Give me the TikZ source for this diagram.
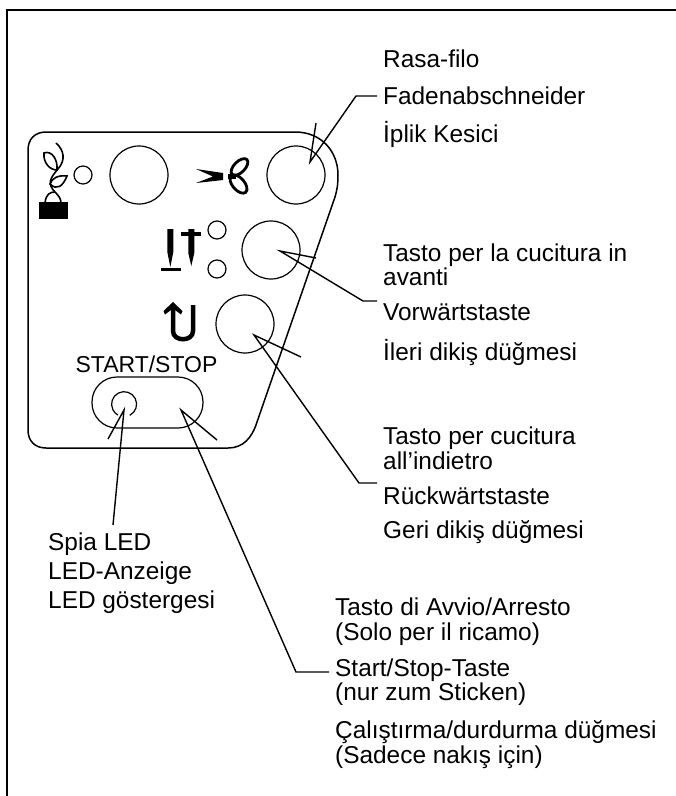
\documentclass[tikz,border=0pt]{standalone}
\usepackage{fontspec}
\setmainfont{Liberation Sans}
\tikzset{
  btn/.style={draw,circle,line width=1.2pt,minimum size=58pt,inner sep=0pt},
  lamp/.style={draw,circle,line width=1.2pt,minimum size=18pt,inner sep=0pt},
  leader/.style={line width=1.4pt,black},
  plantline/.style={line width=1.6pt,black},
  tag/.style={inner ysep=0pt,inner xsep=6pt,anchor=base west,font=\fontsize{24.4}{29}\selectfont}
}
\begin{document}
\begin{tikzpicture}[x=1pt,y=-1pt]
  \useasboundingbox (0,0) rectangle (676,796);
  % page frame and panel
  \draw[line width=1.8pt] (7,796)--(7,10)--(676,10);
  \draw[line width=1.5pt] (46,132)--(295,132) .. controls (322,132) and (338,152) .. (338,175)
    .. controls (338,185) and (337,190) .. (335,197)--(257,422)
    .. controls (252,438) and (243,448) .. (228,448)--(46,448)
    .. controls (35,448) and (28,441) .. (28,430)--(28,150)
    .. controls (28,139) and (35,132) .. (46,132)--cycle;
  % buttons
  \node[btn] (thread) at (139,175) {};
  \node[btn] (cutter) at (296,175) {};
  \node[btn] (forward) at (271,250) {};
  \node[btn] (reverse) at (245,324) {};
  \node[lamp] (threadlamp) at (83,175) {};
  \node[lamp] (uplamp) at (217,230) {};
  \node[lamp] (downlamp) at (217,269) {};
  \node[draw,line width=1.2pt,rounded corners=25pt,minimum width=111pt,minimum height=51pt,inner sep=0pt] (startbtn) at (147.5,402.5) {};
  \node[circle,minimum size=25pt,inner sep=0pt] (ledlamp) at (124,404) {};
  \draw[line width=1.2pt] (ledlamp.297) arc[start angle=-63,end angle=241,radius=12.5pt];
  \node[inner sep=0pt,anchor=base,font=\fontsize{23}{27}\selectfont] (startlabel) at (146.5,372) {START/STOP};
  % plant icon
  \fill (39,202) rectangle (68,219);
  \draw[plantline] (56,143) .. controls (64,150) and (66,160) .. (58,169) .. controls (50,178) and (47,184) .. (55,192) .. controls (59,196) and (61,199) .. (61,203);
  \draw[plantline] (45,203) .. controls (46,194) and (50,192) .. (55,192);
  \draw[plantline] (44,153) .. controls (52,150) and (58,160) .. (57,170) .. controls (50,170) and (43,163) .. (44,153)--cycle;
  \draw[plantline] (67,176) .. controls (58,175) and (52,178) .. (50,184) .. controls (57,191) and (63,186) .. (67,176)--cycle;
  % scissors icon
  \fill (196,169)--(223,173)--(223,180)--(196,183)--(213,176.5)--cycle;
  \fill (228,174) rectangle (236,179);
  \draw[line width=2.8pt,rotate around={45:(239.5,167)}] (239.5,167) ellipse [x radius=10.5pt,y radius=5.5pt];
  \draw[line width=2.8pt,rotate around={-49:(238.5,184)}] (238.5,184) ellipse [x radius=11pt,y radius=6pt];
  % needle icons
  \fill (167.3,229)--(173.3,229)--(173.3,252)--(170.3,267)--(167.3,252)--cycle;
  \fill (161,268) rectangle (181,271);
  \fill (188.3,229)--(194.3,229)--(194.3,253)--(191.3,266)--(188.3,253)--cycle;
  \fill (181,232) rectangle (201,236);
  % reverse icon
  \draw[line width=4.5pt] (173,308)--(173,331) .. controls (173,342) and (193,342) .. (193,331)--(193,305);
  \fill (173,302)--(182.5,311)--(181,314.5)--(173,308.5)--(165,314.5)--(163.5,311)--cycle;
  % texts
  \node[tag] (rasa) at (377,67) {Rasa-filo};
  \node[tag] (faden) at (377,104) {Fadenabschneider};
  \node[tag] (iplik) at (377,142) {İplik Kesici};
  \node[tag] (tastoa) at (377,261) {Tasto per la cucitura in};
  \node[tag] (avanti) at (377,285) {avanti};
  \node[tag] (vorw) at (377,320) {Vorwärtstaste};
  \node[tag] (ileri) at (377,360) {İleri dikiş düğmesi};
  \node[tag] (tastoi) at (377,444) {Tasto per cucitura};
  \node[tag] (indietro) at (377,469) {all’indietro};
  \node[tag] (rueck) at (377,504) {Rückwärtstaste};
  \node[tag] (geri) at (377,538) {Geri dikiş düğmesi};
  \node[tag] (spia) at (42,550) {Spia LED};
  \node[tag] (anzeige) at (42,579) {LED-Anzeige};
  \node[tag] (gosterge) at (42,608) {LED göstergesi};
  \node[tag] (avvio) at (329,615) {Tasto di Avvio/Arresto};
  \node[tag] (solo) at (329,640) {(Solo per il ricamo)};
  \node[tag] (stoptaste) at (329,676) {Start/Stop-Taste};
  \node[tag] (sticken) at (329,700) {(nur zum Sticken)};
  \node[tag] (calis) at (329,738) {Çalıştırma/durdurma düğmesi};
  \node[tag] (sadece) at (329,763) {(Sadece nakış için)};
  % leaders
  \coordinate (fadentip) at (310,162);
  \coordinate (fadenbarb) at (316,123);
  \coordinate (vorwtip) at (280,251);
  \coordinate (vorwbarb) at (316,258);
  \coordinate (ruecktip) at (254,335);
  \coordinate (rueckbarb) at (301,357);
  \coordinate (stoptastetip) at (181,410);
  \coordinate (stoptastebarb) at (217,440);
  \foreach \x/\u/\b in {faden/8/-21,vorw/19/-14,rueck/21/-18,stoptaste/4/-33}{\draw[leader] ([yshift=\u pt]\x.base west)--++(\b,0)--(\x tip)--(\x barb);}
  \coordinate (ledend) at (113,525);
  \coordinate (ledtip) at (124,410);
  \coordinate (ledbarb) at (108,439);
  \draw[leader] (ledend)--(ledtip)--(ledbarb);
\end{tikzpicture}
\end{document}
